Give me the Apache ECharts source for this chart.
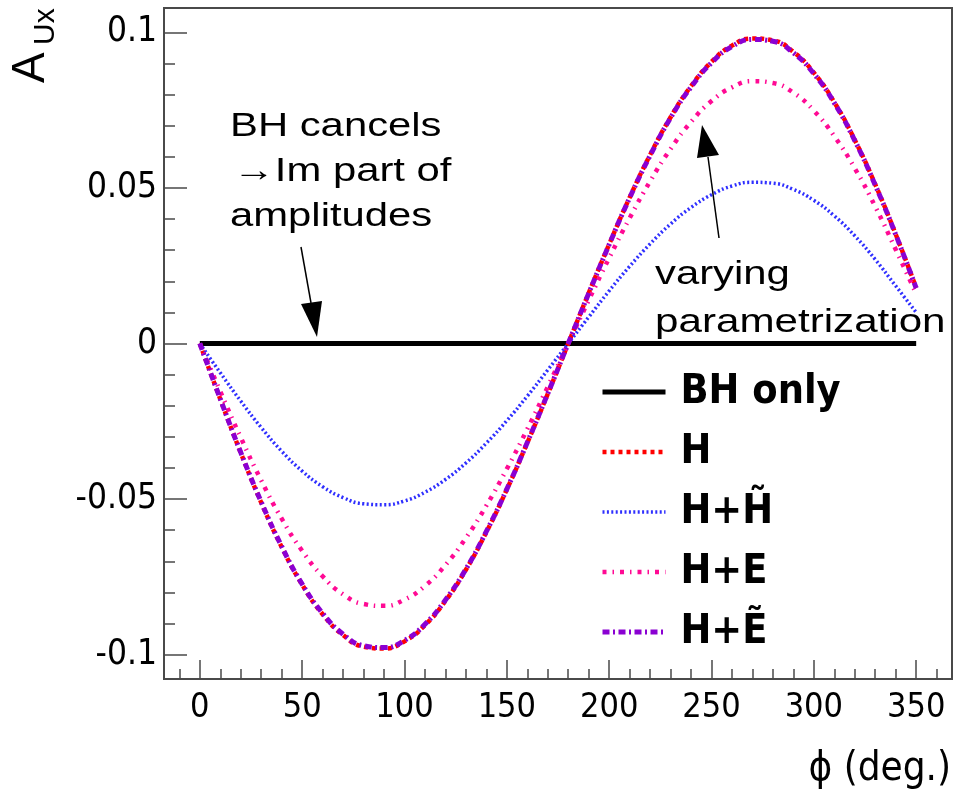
<!DOCTYPE html>
<html>
<head>
<meta charset="utf-8">
<script src="https://cdn.jsdelivr.net/npm/echarts@6/dist/echarts.min.js"></script>
<style>
  html, body { margin: 0; padding: 0; background: #ffffff; }
  #chart { width: 955px; height: 798px; }
</style>
</head>
<body>
<div id="chart"></div>
<script>
// Azimuthal angle phi (degrees)
const phiDeg = [0, 10, 20, 30, 40, 50, 60, 70, 80, 90, 100, 110, 120, 130, 140, 150, 160, 170,
                180, 190, 200, 210, 220, 230, 240, 250, 260, 270, 280, 290, 300, 310, 320, 330, 340, 350];

// Asymmetry A_Ux for each parametrization
const bhOnly = [0, 0, 0, 0, 0, 0, 0, 0, 0, 0, 0, 0, 0, 0, 0, 0, 0, 0,
                0, 0, 0, 0, 0, 0, 0, 0, 0, 0, 0, 0, 0, 0, 0, 0, 0, 0];
const hOnly = [0, -0.0179, -0.0351, -0.0511, -0.0654, -0.0775, -0.0870, -0.0937, -0.0974, -0.0980,
               -0.0957, -0.0905, -0.0827, -0.0727, -0.0606, -0.0469, -0.0319, -0.0162,
               0, 0.0162, 0.0319, 0.0469, 0.0606, 0.0727, 0.0827, 0.0905, 0.0957, 0.0980,
               0.0974, 0.0937, 0.0870, 0.0775, 0.0654, 0.0511, 0.0351, 0.0179];
const hPlusHt = [0, -0.0094, -0.0185, -0.0270, -0.0346, -0.0410, -0.0460, -0.0495, -0.0515, -0.0518,
                 -0.0506, -0.0478, -0.0437, -0.0384, -0.0320, -0.0248, -0.0169, -0.0085,
                 0, 0.0085, 0.0169, 0.0248, 0.0320, 0.0384, 0.0437, 0.0478, 0.0506, 0.0518,
                 0.0515, 0.0495, 0.0460, 0.0410, 0.0346, 0.0270, 0.0185, 0.0100];
const hPlusE = [0, -0.0154, -0.0302, -0.0440, -0.0563, -0.0666, -0.0748, -0.0806, -0.0837, -0.0843,
                -0.0823, -0.0779, -0.0712, -0.0625, -0.0521, -0.0403, -0.0275, -0.0139,
                0, 0.0139, 0.0275, 0.0403, 0.0521, 0.0625, 0.0712, 0.0779, 0.0823, 0.0843,
                0.0837, 0.0806, 0.0748, 0.0666, 0.0563, 0.0440, 0.0302, 0.0160];
const hPlusEt = [0, -0.0178, -0.0350, -0.0509, -0.0652, -0.0773, -0.0867, -0.0934, -0.0971, -0.0977,
                 -0.0954, -0.0902, -0.0824, -0.0725, -0.0604, -0.0468, -0.0318, -0.0161,
                 0, 0.0161, 0.0318, 0.0468, 0.0604, 0.0725, 0.0824, 0.0902, 0.0954, 0.0977,
                 0.0971, 0.0934, 0.0867, 0.0773, 0.0652, 0.0509, 0.0350, 0.0178];

const seriesNames = ['BH only', 'H', 'H+H\u0303', 'H+E', 'H+\u1EBC'];

const NARROW = "'DejaVu Sans Condensed', 'Liberation Sans', sans-serif";
const SANS = "'Liberation Sans', Arial, sans-serif";
const FRAME = '#4a4a4a';

const pairs = ys => phiDeg.map((p, i) => [p, ys[i]]);
const onMultiple = (v, step) => Math.abs(v / step - Math.round(v / step)) < 1e-6;

const chart = echarts.init(document.getElementById('chart'), null, { renderer: 'canvas' });

chart.setOption({
  animation: false,
  backgroundColor: '#ffffff',
  grid: {
    left: 164, right: 2, top: 8, bottom: 119,
    show: true, borderColor: FRAME, borderWidth: 2, backgroundColor: 'transparent'
  },
  xAxis: [
    {
      // major ticks every 50 degrees
      type: 'value', position: 'bottom', min: -17.5, max: 367.5, splitNumber: 8,
      axisLine: { show: true, onZero: false, lineStyle: { color: FRAME, width: 2 } },
      axisTick: { show: true, inside: true, length: 19, lineStyle: { color: FRAME, width: 1.5 } },
      axisLabel: {
        show: true, margin: 12, color: '#000', fontSize: 34, fontFamily: NARROW,
        formatter: v => onMultiple(v, 50) ? String(Math.round(v)) : ''
      },
      splitLine: { show: false }
    },
    {
      // minor ticks every 10 degrees
      type: 'value', position: 'bottom', min: -17.5, max: 367.5, splitNumber: 38,
      axisLine: { show: false, onZero: false },
      axisTick: { show: true, inside: true, length: 10, lineStyle: { color: FRAME, width: 1.5 } },
      axisLabel: { show: false },
      splitLine: { show: false }
    }
  ],
  yAxis: [
    {
      // major ticks every 0.05
      type: 'value', position: 'left', min: -0.1078, max: 0.1078, splitNumber: 4,
      axisLine: { show: true, onZero: false, lineStyle: { color: FRAME, width: 2 } },
      axisTick: { show: true, inside: true, length: 23, lineStyle: { color: FRAME, width: 1.5 } },
      axisLabel: {
        show: true, margin: 7, color: '#000', fontSize: 35, fontFamily: NARROW,
        formatter: v => onMultiple(v, 0.05) ? String(Math.round(v * 100) / 100) : ''
      },
      splitLine: { show: false }
    },
    {
      // minor ticks every 0.01
      type: 'value', position: 'left', min: -0.1078, max: 0.1078, splitNumber: 21,
      axisLine: { show: false, onZero: false },
      axisTick: { show: true, inside: true, length: 11, lineStyle: { color: FRAME, width: 1.5 } },
      axisLabel: { show: false },
      splitLine: { show: false }
    }
  ],
  legend: {
    left: 595, top: 365, orient: 'vertical',
    itemWidth: 63, itemHeight: 14, itemGap: 16,
    lineStyle: { width: 'inherit' },
    itemStyle: { opacity: 0 },
    textStyle: {
      fontFamily: NARROW, fontWeight: 'bold', fontSize: 41, color: '#000',
      lineHeight: 44, padding: [0, 0, 0, 10]
    },
    data: seriesNames
  },
  series: [
    {
      name: seriesNames[0], type: 'line', data: pairs(bhOnly), symbol: 'none',
      lineStyle: { color: '#000000', width: 5, type: 'solid' }, itemStyle: { color: '#000000' }, z: 2
    },
    {
      name: seriesNames[1], type: 'line', data: pairs(hOnly), smooth: true, symbol: 'none',
      lineStyle: { color: '#ff0000', width: 4.5, type: [4, 4] }, itemStyle: { color: '#ff0000' }, z: 3
    },
    {
      name: seriesNames[2], type: 'line', data: pairs(hPlusHt), smooth: true, symbol: 'none',
      lineStyle: { color: '#2f2fff', width: 3.5, type: [2, 2.4] }, itemStyle: { color: '#2f2fff' }, z: 4
    },
    {
      name: seriesNames[3], type: 'line', data: pairs(hPlusE), smooth: true, symbol: 'none',
      lineStyle: { color: '#ff0a94', width: 4.5, type: [4, 6, 1.5, 6] }, itemStyle: { color: '#ff0a94' }, z: 5
    },
    {
      name: seriesNames[4], type: 'line', data: pairs(hPlusEt), smooth: true, symbol: 'none',
      lineStyle: { color: '#8a00d2', width: 5, type: [7, 3.5, 2, 3.5] }, itemStyle: { color: '#8a00d2' }, z: 6
    }
  ],
  graphic: [
    // y-axis title A_Ux (rotated)
    { type: 'text', x: 31, y: 83, rotation: Math.PI / 2, z: 10,
      style: { text: 'A', font: "46px " + SANS, fill: '#000', textAlign: 'left', textVerticalAlign: 'middle' } },
    { type: 'text', x: 46, y: 45, rotation: Math.PI / 2, z: 10,
      style: { text: 'Ux', font: "30px " + SANS, fill: '#000', textAlign: 'left', textVerticalAlign: 'middle' } },
    // x-axis title
    { type: 'text', x: 951, y: 770, z: 10,
      style: { text: '\u03D5 (deg.)', font: "40px " + NARROW, fill: '#000', textAlign: 'right', textVerticalAlign: 'middle' } },
    // annotation: BH cancels
    { type: 'text', x: 230, y: 126.5, scaleX: 1.23, z: 10,
      style: { text: 'BH cancels', font: "34px " + SANS, fill: '#000', textAlign: 'left', textVerticalAlign: 'middle' } },
    { type: 'text', x: 233, y: 171.5, scaleX: 1.23, z: 10,
      style: { text: '\u2192Im part of', font: "34px " + SANS, fill: '#000', textAlign: 'left', textVerticalAlign: 'middle' } },
    { type: 'text', x: 230, y: 216.5, scaleX: 1.23, z: 10,
      style: { text: 'amplitudes', font: "34px " + SANS, fill: '#000', textAlign: 'left', textVerticalAlign: 'middle' } },
    { type: 'line', z: 10, shape: { x1: 301, y1: 247, x2: 311, y2: 303 }, style: { stroke: '#000', lineWidth: 1.5 } },
    { type: 'polygon', z: 10, shape: { points: [[317, 337], [301, 304], [322, 301]] }, style: { fill: '#000' } },
    // annotation: varying parametrization
    { type: 'text', x: 655, y: 274.5, scaleX: 1.23, z: 10,
      style: { text: 'varying', font: "34px " + SANS, fill: '#000', textAlign: 'left', textVerticalAlign: 'middle' } },
    { type: 'text', x: 655, y: 322.5, scaleX: 1.24, z: 10,
      style: { text: 'parametrization', font: "34px " + SANS, fill: '#000', textAlign: 'left', textVerticalAlign: 'middle' } },
    { type: 'line', z: 10, shape: { x1: 719, y1: 238, x2: 708, y2: 157 }, style: { stroke: '#000', lineWidth: 1.5 } },
    { type: 'polygon', z: 10, shape: { points: [[702, 125], [697, 158], [719, 155]] }, style: { fill: '#000' } }
  ]
});
</script>
</body>
</html>
